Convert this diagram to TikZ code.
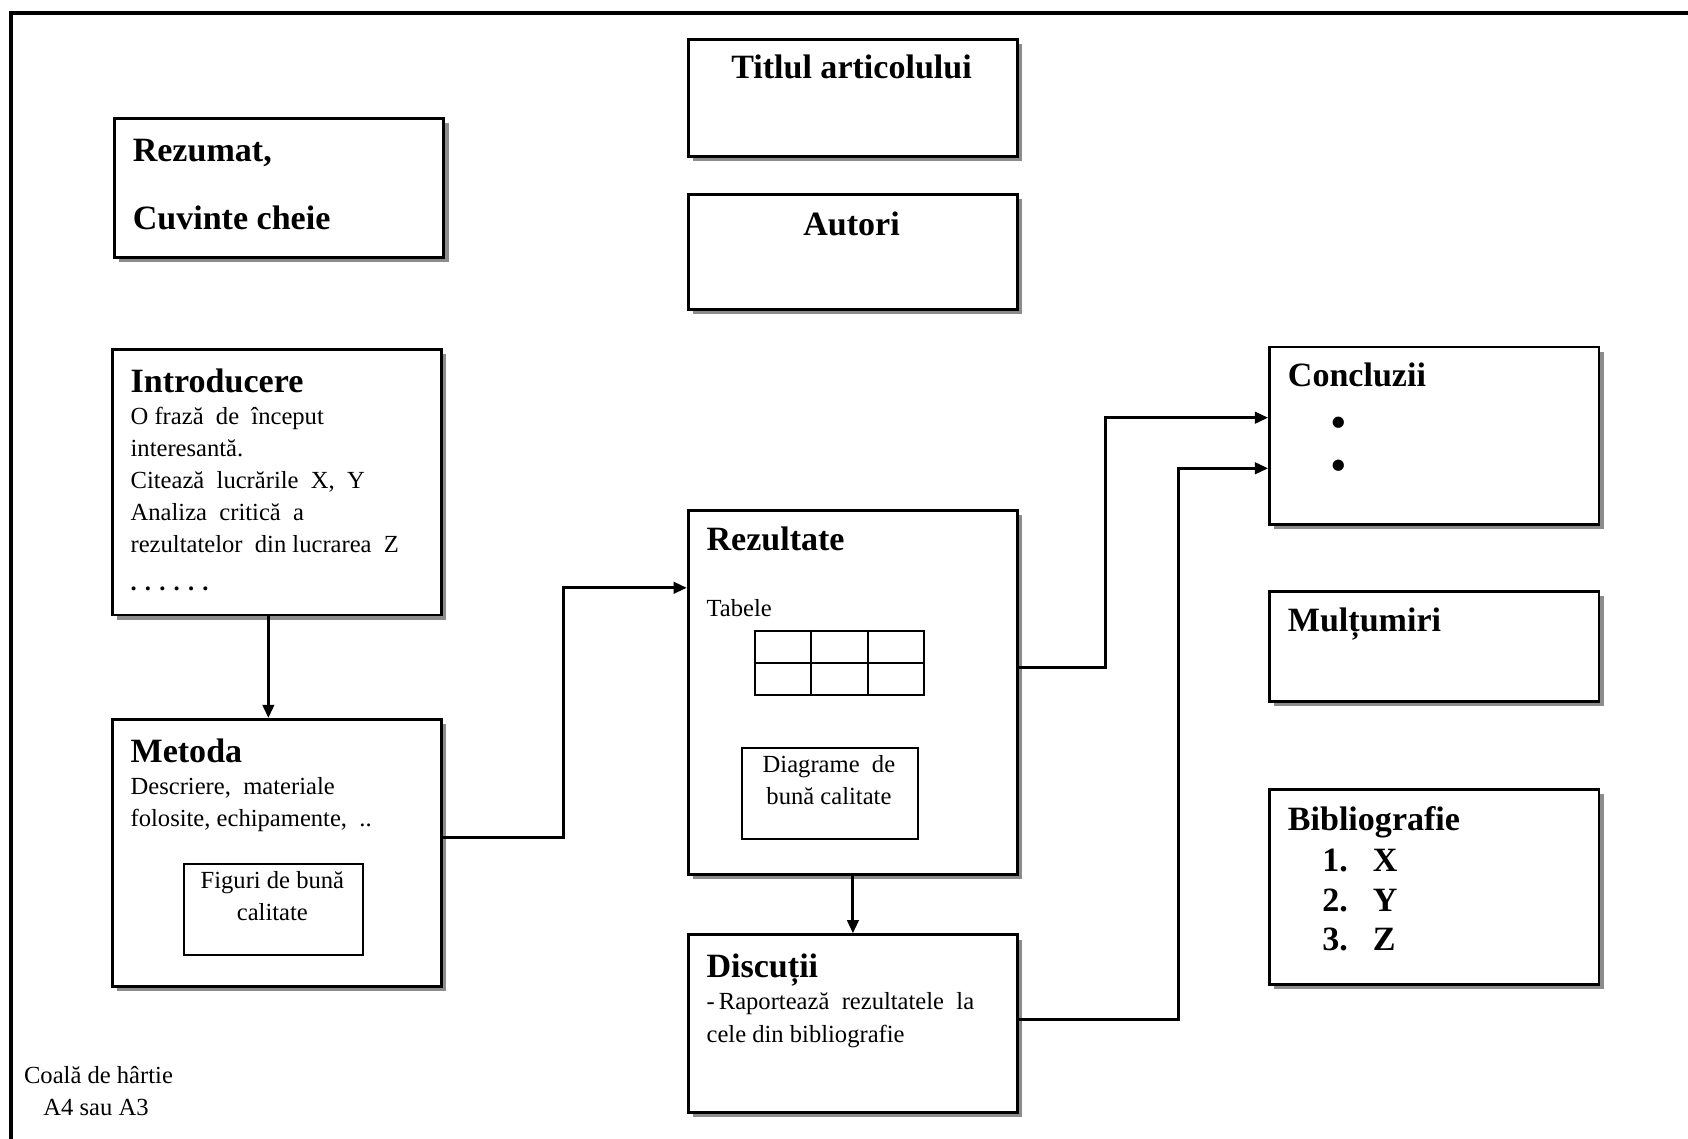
\documentclass[tikz,border=0pt]{standalone}
\usepackage{fontspec}
\setmainfont{Liberation Serif}
\usetikzlibrary{arrows.meta,shadows,calc}
\newcommand{\bodyfont}{\fontsize{13}{17}\selectfont}
\newcommand{\headfont}{\fontsize{18}{21}\selectfont\bfseries}

\begin{document}
\begin{tikzpicture}[
    x=0.02cm, y=-0.02cm,
    box/.style={draw, line width=1.5pt, fill=white, anchor=north west,
                inner sep=0pt, minimum width=6.12cm,
                drop shadow={shadow xshift=2.5pt, shadow yshift=-2.5pt,
                             opacity=1, fill=black!45}},
    inbox/.style={draw, line width=1.1pt, anchor=north west, inner sep=0pt},
    txt/.style={anchor=north west, inner sep=0pt, align=left, font=\bodyfont},
    head/.style={txt, font=\headfont},
    bul/.style={font=\fontsize{22}{22}\selectfont\bfseries, inner sep=0pt},
    arr/.style={line width=1.6pt, -{Triangle[length=7pt,width=6pt]}}
]
\useasboundingbox (0,0) rectangle (1568,1058);
% foaia de hartie
\draw[line width=2pt] (10,1080) -- (10,12) -- (1590,12);

% casetele
\node[box, minimum height=2.58cm] (rezumat) at (105,109) {};
\node[box, minimum height=2.18cm] (titlu) at (638,35) {};
\node[box, minimum height=2.14cm] (autori) at (638,179) {};
\node[box, minimum height=4.94cm] (intro) at (103,323) {};
\node[box, minimum height=4.96cm] (metoda) at (103,667) {};
\node[box, minimum height=6.76cm] (rezultate) at (638,473) {};
\node[box, minimum height=3.30cm] (discutii) at (638,867) {};
\node[box, minimum height=3.30cm] (concluzii) at (1178,321) {};
\node[box, minimum height=2.04cm] (multumiri) at (1178,548) {};
\node[box, minimum height=3.62cm] (biblio) at (1178,732) {};

% casete interioare
\node[inbox, minimum width=3.32cm, minimum height=1.68cm] (figuri) at (170,802) {};
\node[inbox, minimum width=3.28cm, minimum height=1.68cm] (diagrame) at (688,694) {};
\node[inbox, minimum width=3.14cm, minimum height=1.20cm] (tabel) at (700,585) {};
\draw[line width=1.1pt] (tabel.west) -- (tabel.east);
\foreach \f in {1,2}
    \draw[line width=1.1pt] ($(tabel.north west)!\f/3!(tabel.north east)$)
        -- ($(tabel.south west)!\f/3!(tabel.south east)$);

% texte
\node[head] (rezumat-txt) at (123,129) {Rezumat,\\[15pt] Cuvinte cheie};
\node[head, anchor=north, align=center] (titlu-txt) at (791,51) {Titlul articolului};
\node[head, anchor=north, align=center] (autori-txt) at (791,196) {Autori};
\node[txt] (intro-txt) at (121,342) {{\headfont Introducere}\\
    O frază\ \ de\ \ început\\
    interesantă.\\
    Citează\ \ lucrările\ \ X,\ \ Y\\
    Analiza\ \ critică\ \ a\\
    rezultatelor\ \ din lucrarea\ \ Z\\[3pt]
    \textbf{.\,\,.\,\,.\,\,.\,\,.\,\,.}};
\node[txt] (metoda-txt) at (121,686) {{\headfont Metoda}\\
    Descriere,\ \ materiale\\
    folosite, echipamente,\ \ ..};
\node[txt, anchor=north, align=center] (figuri-txt) at (253,809) {Figuri de bună\\ calitate};
\node[head] (rezultate-txt) at (656,489) {Rezultate};
\node[txt, anchor=west] (tabele-txt) at (656,565) {Tabele};
\node[txt, anchor=north, align=center] (diagrame-txt) at (770,701) {Diagrame\ \ de\\ bună calitate};
\node[txt] (discutii-txt) at (656,886) {{\headfont Discuții}\\
    -\,Raportează\ \ rezultatele\ \ la\\
    cele din bibliografie};
\node[head] (concluzii-txt) at (1196,337) {Concluzii};
\node[bul] (bul1) at (1244,396) {\textbullet};
\node[bul] (bul2) at (1244,436) {\textbullet};
\node[head] (multumiri-txt) at (1196,564) {Mulțumiri};
\node[head] (biblio-txt) at (1196,749) {Bibliografie};
\foreach \nr/\ref [count=\i] in {1/X,2/Y,3/Z} {
    \node[head, anchor=west] (bibnr\i) at (1228,{762+37*\i}) {\nr.};
    \node[head, anchor=west] (bibref\i) at (1275,{762+37*\i}) {\ref};
}
\node[txt] (coala) at (22,990) {Coală de hârtie\\ \hspace*{0.36cm}A4 sau A3};

% sageti
\draw[arr] ([xshift=-0.16cm]intro.south) -- ([xshift=-0.16cm]metoda.north);
\draw[arr] (metoda.east |- 0,778) -- (523,778) -- (523,546) -- (rezultate.west |- 0,546);
\draw[arr] (rezultate.south) -- (discutii.north);
\draw[arr] (rezultate.east |- 0,620) -- (1027,620) -- (1027,388) -- (concluzii.west |- 0,388);
\draw[arr] (discutii.east |- 0,947) -- (1095,947) -- (1095,435) -- (concluzii.west |- 0,435);
\end{tikzpicture}
\end{document}
